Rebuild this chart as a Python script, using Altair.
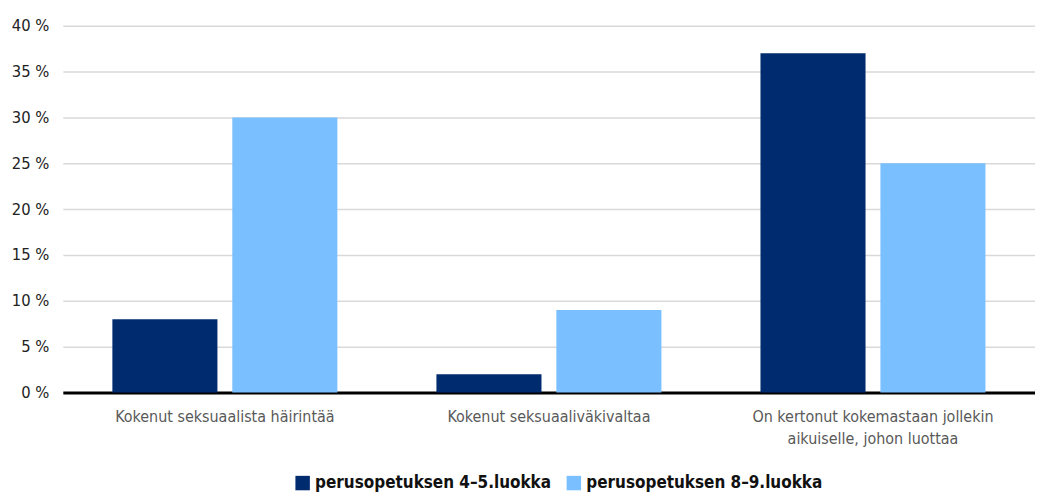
import altair as alt
import pandas as pd

categories = ["Kokenut seksuaalista häirintää", "Kokenut seksuaaliväkivaltaa",
              "On kertonut kokemastaan jollekin|aikuiselle, johon luottaa"]
series = ["perusopetuksen 4–5.luokka", "perusopetuksen 8–9.luokka"]
values_45 = [8, 2, 37]
values_89 = [30, 9, 25]
colors = ["#002b6e", "#7abfff"]

rows = []
for c, a, b in zip(categories, values_45, values_89):
    rows.append({"cat": c, "series": series[0], "value": a})
    rows.append({"cat": c, "series": series[1], "value": b})
df = pd.DataFrame(rows)

FONT = "Liberation Sans Narrow, DejaVu Sans Condensed, sans-serif"

chart = alt.Chart(df).mark_bar().encode(
    x=alt.X("cat:N", sort=categories, title=None,
            scale=alt.Scale(paddingInner=0, paddingOuter=0),
            axis=alt.Axis(labelAngle=0, labelExpr="split(datum.label, '|')",
                          labelFont=FONT, labelFontSize=16, labelColor="#595959",
                          labelLimit=0,
                          ticks=False, domainColor="#000000", domainWidth=3,
                          labelPadding=16, labelLineHeight=22)),
    xOffset=alt.XOffset("series:N", sort=series,
                        scale=alt.Scale(paddingInner=0.124, paddingOuter=0.413)),
    y=alt.Y("value:Q", title=None,
            scale=alt.Scale(domain=[0, 40], nice=False),
            axis=alt.Axis(values=[0, 5, 10, 15, 20, 25, 30, 35, 40],
                          labelExpr="datum.value + ' %'", ticks=False, domain=False,
                          gridColor="#d9d9d9", gridWidth=1.5,
                          labelFont=FONT, labelFontSize=16.5, labelColor="#222222",
                          labelPadding=14)),
    color=alt.Color("series:N", sort=series,
                    scale=alt.Scale(domain=series, range=colors),
                    legend=alt.Legend(title=None, orient="none", direction="horizontal",
                                      legendX=232, legendY=450,
                                      symbolType="square", symbolSize=210,
                                      symbolStrokeWidth=0, labelLimit=0,
                                      labelFont=FONT, labelFontSize=17,
                                      labelFontWeight="bold", labelColor="#111111",
                                      columnPadding=14, labelOffset=4)),
).properties(
    width=975, height=368,
    autosize=alt.AutoSizeParams(type="none"),
    padding={"left": 55, "top": 17, "right": 0, "bottom": 100},
).configure_view(stroke=None)

chart.save("out.html", embed_options={"renderer": "svg", "actions": False})
